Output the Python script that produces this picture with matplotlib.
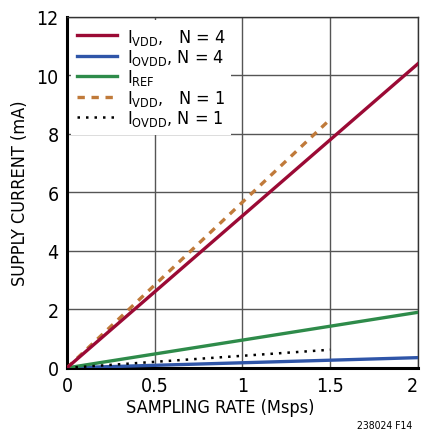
import matplotlib
matplotlib.use("Agg")
import matplotlib.pyplot as plt

# -------------------------
# Dati
# -------------------------
rate_n4 = [0, 2]
ivdd_n4 = [0, 10.4]
iovdd_n4 = [0, 0.35]
iref = [0, 1.9]

rate_n1 = [0, 1.5]
ivdd_n1 = [0, 8.5]
iovdd_n1 = [0, 0.62]

x_ticks = [0, 0.5, 1, 1.5, 2]
x_labels = ["0", "0.5", "1", "1.5", "2"]
y_ticks = [0, 2, 4, 6, 8, 10, 12]

# font stretta (DejaVu Sans Condensed)
plt.rcParams["font.family"] = ["DejaVu Sans"]
plt.rcParams["font.stretch"] = "condensed"
plt.rcParams["mathtext.fontset"] = "custom"
plt.rcParams["mathtext.rm"] = "DejaVu Sans:stretch=condensed"
plt.rcParams["mathtext.it"] = "DejaVu Sans:stretch=condensed"

fig = plt.figure(figsize=(4.21, 4.35), dpi=100)
ax = fig.add_axes([0.159, 0.152, 0.834, 0.807])

ax.plot(rate_n4, ivdd_n4, color="#9b0a35", lw=2.4, label=r"$\mathregular{I_{VDD}}$,   N = 4", zorder=5)
ax.plot(rate_n4, iovdd_n4, color="#2f55a8", lw=2.4, label=r"$\mathregular{I_{OVDD}}$, N = 4", zorder=4)
ax.plot(rate_n4, iref, color="#2e8b4a", lw=2.4, label=r"$\mathregular{I_{REF}}$", zorder=4)
ax.plot(rate_n1, ivdd_n1, color="#c07a3a", lw=2.4, ls=(0, (2.2, 2.0)), label=r"$\mathregular{I_{VDD}}$,   N = 1", zorder=4)
ax.plot(rate_n1, iovdd_n1, color="black", lw=1.8, ls=(0, (1, 2.4)), label=r"$\mathregular{I_{OVDD}}$, N = 1", zorder=4)

ax.set_xlim(0, 2)
ax.set_ylim(0, 12)
ax.set_xticks(x_ticks)
ax.set_xticklabels(x_labels)
ax.set_yticks(y_ticks)
ax.tick_params(length=0, labelsize=14, pad=6)
ax.get_xticklabels()[-1].set_horizontalalignment("right")
ax.grid(True, color="#555555", lw=1.0)

for s in ["top", "right"]:
    ax.spines[s].set_linewidth(1.0)
    ax.spines[s].set_color("#333333")
for s in ["left", "bottom"]:
    ax.spines[s].set_linewidth(2.2)
    ax.spines[s].set_color("black")

ax.set_xlabel("SAMPLING RATE (Msps)", fontsize=13, labelpad=4)
ax.xaxis.set_label_coords(0.437, -0.085)
ax.set_ylabel("SUPPLY CURRENT (mA)", fontsize=13, labelpad=5)

leg = ax.legend(loc="upper left", fontsize=13, frameon=True, fancybox=False,
                handlelength=2.2, handletextpad=0.55, labelspacing=0.02,
                borderaxespad=0.2, borderpad=0.35)
leg.get_frame().set_edgecolor("none")
leg.get_frame().set_facecolor("white")
leg.get_frame().set_alpha(1.0)
leg.set_zorder(10)

fig.text(0.98, 0.01, "238024 F14", ha="right", va="bottom", fontsize=7.5)

fig.savefig("out.png", dpi=100)
